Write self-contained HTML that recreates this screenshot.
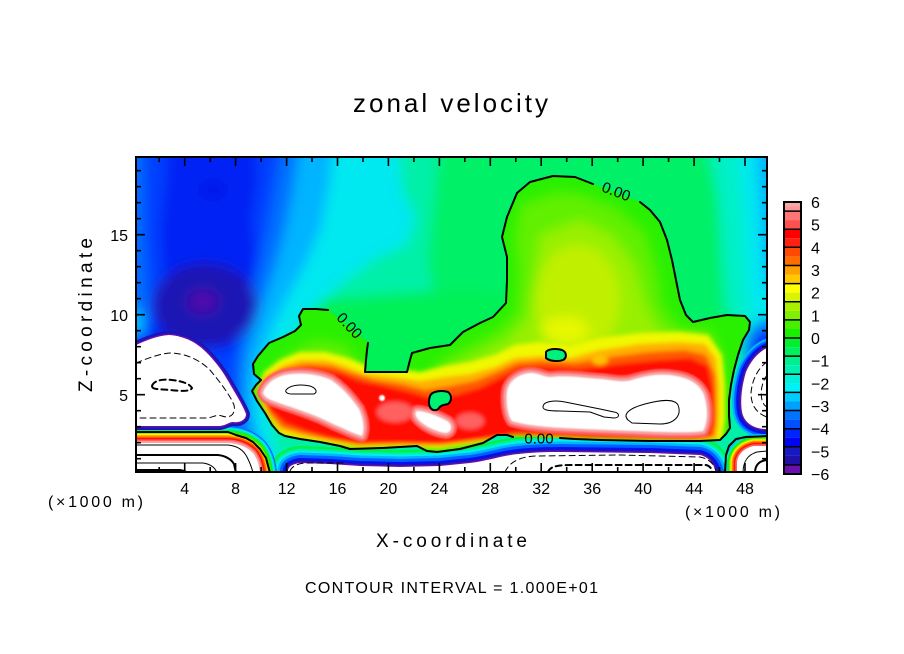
<!DOCTYPE html>
<html><head><meta charset="utf-8">
<style>
html,body{margin:0;padding:0;background:#fff;}
svg{display:block;}
text{font-family:"Liberation Sans",sans-serif;fill:#000;}
</style></head><body>
<svg width="904" height="654" viewBox="0 0 904 654" xmlns="http://www.w3.org/2000/svg">
<defs>
<clipPath id="cp"><rect x="136" y="157" width="631" height="315"/></clipPath>
<path id="pMain" d="M368,343 L367,350 L366,360 L365,372 L385,372 L407,372 L410,360 L412,353 L430,348 L450,345 L463,332 L480,323 L493,317 L506,303 L507,280 L507,257 L502,237 L507,217 L517,193 L530,182 L553,176 L575,177 L593,184 L616,193 L640,202 L650,210 L660,222 L667,240 L672,260 L676,280 L680,300 L686,315 L693,322 L710,318 L727,315 L745,316 L750,322 L749,330 L743,340 L738,355 L734,370 L731,385 L729,400 L729,415 L730,428 L726,434 L720,440 L700,441 L650,441 L600,440 L575,439 L560,438 L538,437 L513,437 L507,435 L497,435 L483,443 L460,449 L437,452 L427,451 L417,446 L383,448 L350,449 L340,446 L320,442 L300,439 L285,436 L279,433 L272,425 L265,413 L257,401 L252,391 L256,385 L261,380 L254,374 L253,364 L258,356 L269,343 L283,337 L295,331 L301,325 L299,316 L303,309 L316,309 L328,310 L348,326 Z"/>
<clipPath id="mc"><use href="#pMain"/></clipPath>
<filter id="b6" x="-10%" y="-10%" width="120%" height="120%"><feGaussianBlur stdDeviation="6"/></filter>
<filter id="b2" x="-10%" y="-10%" width="120%" height="120%"><feGaussianBlur stdDeviation="2"/></filter>
<filter id="b1" x="-10%" y="-10%" width="120%" height="120%"><feGaussianBlur stdDeviation="0.8"/></filter>
<path id="pBM" d="M288,500 L288,470 C289,466 293,464 300,463 L330,464 L360,466 L400,467 L440,466 L470,463 C485,461 495,458 505,456 C520,453 540,452 560,452 L650,453 L700,455 C708,457 713,462 716,472 L717,500 Z"/>
<path id="pA" d="M263,393 C265,385 273,378 285,375 C300,372 318,374 331,380 C343,388 352,399 359,409 C363,418 365,428 362,436 C352,433 343,428 333,424 C318,416 300,410 285,405 C274,401 265,399 263,393 Z"/>
<path id="pB" d="M417,411 C425,411 438,416 447,421 C453,425 452,432 446,433 C438,432 428,428 421,422 C416,418 414,413 417,411 Z"/>
<path id="pD" d="M507,392 C508,382 518,374 530,373 C540,373 545,378 552,377 C565,375 585,378 600,379 C612,380 622,383 632,380 C645,376 660,373 675,376 C690,378 700,385 704,395 C708,408 708,422 703,431 C690,433 660,432 640,431 C610,430 585,429 565,428 C545,427 525,425 512,421 C507,415 506,400 507,392 Z"/>
<path id="pBL" d="M100,443 L226,443 C238,443 247,447 253,453 C257,458 259,464 260,473 L260,500 L100,500 Z"/>
<path id="pLW" d="M100,345 L136,345 C145,341 156,336 169,335 C185,336 197,343 206,352 C216,362 224,373 231,386 C237,396 243,406 246,414 C246,420 240,423 233,422 C229,422 227,425 220,426 L100,426 Z"/>
<path id="pRW" d="M800,348 L767,348 C758,352 750,362 746,372 C742,385 740,400 742,412 C744,422 752,428 764,429 L800,429 Z"/>
<path id="pBR" d="M737,500 L737,462 C738,454 744,448 754,446 L800,446 L800,500 Z"/>
</defs>

<!-- ================= FIELD ================= -->
<g clip-path="url(#cp)">
 <g filter="url(#b6)">
  <rect x="100" y="140" width="720" height="360" fill="#00f0a8"/>
  <polygon fill="#00f068" points="440,140 705,140 718,200 722,300 735,345 480,352 440,335 428,260"/>
  <polygon fill="#00f058" points="305,300 420,292 470,290 510,295 515,385 300,385"/>
  <polygon fill="#00f0c8" points="712,140 820,140 820,350 740,345 730,300 722,230"/>
  <polygon fill="#00e8f0" points="738,140 820,140 820,345 752,338 748,290 744,220"/>
  <polygon fill="#00b4ff" points="756,140 820,140 820,300 766,290 761,220"/>
  <ellipse cx="768" cy="350" rx="24" ry="30" fill="#0070ff"/>
  <ellipse cx="768" cy="352" rx="16" ry="20" fill="#0010f8"/>
  <polygon fill="#00e8f0" points="100,140 398,140 402,190 416,218 406,245 376,258 346,280 318,305 296,330 281,355 272,380 266,410 274,440 288,500 100,500"/>
  <polygon fill="#00b4ff" points="100,140 335,140 328,190 320,230 305,265 287,298 272,328 262,355 255,385 256,420 268,460 278,500 100,500"/>
  <polygon fill="#0070ff" points="100,140 300,140 293,190 285,230 275,268 264,300 254,330 246,360 244,400 252,440 264,500 100,500"/>
  <polygon fill="#0040ff" points="143,140 282,140 274,190 266,235 258,270 250,300 242,330 236,365 236,410 100,410 100,345 145,335 148,300 144,240"/>
  <polygon fill="#0022f4" points="168,140 256,140 258,180 252,220 256,255 252,290 244,325 232,350 150,350 156,320 164,280 160,230 166,180"/>
  <ellipse cx="213" cy="190" rx="13" ry="8" fill="#0012e8"/>
  <ellipse cx="205" cy="305" rx="52" ry="42" fill="#1c14b4"/>
  <ellipse cx="203" cy="302" rx="17" ry="13" fill="#4010a8"/>
  <ellipse cx="203" cy="301" rx="6" ry="5" fill="#6010b0"/>
  <ellipse cx="136" cy="322" rx="8" ry="14" fill="#00c0ff"/>
 </g>

 <!-- bottom-middle negative region -->
 <g fill="none" stroke-linejoin="round">
  <use href="#pBM" stroke="#00f048" stroke-width="34"/>
  <use href="#pBM" stroke="#00f0a0" stroke-width="29"/>
  <use href="#pBM" stroke="#00f0e8" stroke-width="25"/>
  <use href="#pBM" stroke="#00b4ff" stroke-width="21"/>
  <use href="#pBM" stroke="#0060ff" stroke-width="16"/>
  <use href="#pBM" stroke="#0010f8" stroke-width="10"/>
  <use href="#pBM" stroke="#1c14b4" stroke-width="6"/>
  <use href="#pBM" stroke="#6010b0" stroke-width="3"/>
 </g>
 <use href="#pBM" fill="#fff"/>

 <!-- main positive region -->
 <g clip-path="url(#mc)">
  <rect x="240" y="170" width="520" height="290" fill="#28f000"/>
  <g filter="url(#b6)">
   <polygon fill="#60f000" points="520,205 555,192 580,194 615,207 645,232 657,270 662,305 680,330 712,330 722,360 722,440 280,440 268,410 270,385 280,360 300,348 315,340 345,345 372,382 420,384 440,362 470,345 498,330 516,312 518,270 514,240"/>
   <polygon fill="#98f000" points="540,235 580,220 612,235 635,265 645,305 660,332 700,336 716,355 716,440 290,440 282,395 300,372 330,364 370,388 420,392 445,370 480,355 508,340 528,318 534,280"/>
   <ellipse cx="578" cy="300" rx="42" ry="55" fill="#c0f000"/>
   <ellipse cx="565" cy="330" rx="24" ry="13" fill="#e8f800"/>
  </g>
  <g filter="url(#b2)">
   <polygon fill="#f0f800" points="256,392 264,372 280,360 300,352 325,352 348,358 368,366 395,368 420,372 445,366 470,362 495,355 515,345 540,342 570,346 600,338 640,333 680,332 708,335 722,355 725,385 725,420 722,440 700,441 560,438 507,435 480,443 440,449 400,447 360,449 330,444 300,439 280,434 266,414"/>
   <polygon fill="#ffb000" points="258,392 266,376 282,366 300,360 325,360 345,366 365,374 395,377 420,381 445,377 470,374 495,367 515,358 540,356 570,358 600,350 640,344 680,342 705,344 716,358 719,385 719,415 717,438 700,441 600,439 560,437 507,434 480,440 440,446 400,445 360,446 330,441 300,436 280,430 268,414"/>
   <polygon fill="#ff5800" points="260,392 269,377 286,368 307,364 332,366 352,373 375,380 402,384 425,390 450,386 475,381 497,372 517,363 542,361 575,363 610,357 650,352 685,350 706,355 715,375 716,400 716,425 713,437 690,439 600,438 560,437 510,435 485,440 445,445 400,444 358,445 330,440 302,433 282,427 269,412"/>
   <polygon fill="#ff1000" points="262,392 272,378 290,370 315,368 340,373 360,381 385,386 410,392 430,398 455,395 480,388 500,378 520,368 545,367 580,369 620,364 660,360 690,358 708,366 713,390 713,420 710,436 690,438 640,438 600,437 560,436 520,433 500,436 470,441 430,444 390,443 355,443 330,438 305,431 285,423 270,410"/>
   <ellipse cx="395" cy="412" rx="18" ry="10" fill="#ff6060"/>
   <ellipse cx="470" cy="421" rx="14" ry="8" fill="#ff6060"/>
   <ellipse cx="600" cy="360" rx="8" ry="5" fill="#ffc000"/>
  </g>
  <g filter="url(#b1)">
   <g fill="none" stroke-linejoin="round">
    <use href="#pA" stroke="#ff6060" stroke-width="12"/>
    <use href="#pB" stroke="#ff6060" stroke-width="12"/>
    <use href="#pD" stroke="#ff6060" stroke-width="12"/>
    <use href="#pA" stroke="#f8a0a0" stroke-width="6"/>
    <use href="#pB" stroke="#f8a0a0" stroke-width="6"/>
    <use href="#pD" stroke="#f8a0a0" stroke-width="6"/>
   </g>
   <use href="#pA" fill="#fff"/>
   <use href="#pB" fill="#fff"/>
   <use href="#pD" fill="#fff"/>
   <circle cx="382" cy="398" r="3" fill="#fff"/>
  </g>
 </g>

 <!-- bottom-left positive region -->
 <g fill="none" stroke-linejoin="round">
  <use href="#pBL" stroke="#0060ff" stroke-width="34"/>
  <use href="#pBL" stroke="#00b4ff" stroke-width="32"/>
  <use href="#pBL" stroke="#00f0e8" stroke-width="30"/>
  <use href="#pBL" stroke="#00f0a0" stroke-width="28"/>
  <use href="#pBL" stroke="#00f048" stroke-width="26"/>
  <use href="#pBL" stroke="#28f000" stroke-width="24"/>
  <use href="#pBL" stroke="#98f000" stroke-width="20"/>
  <use href="#pBL" stroke="#f0f800" stroke-width="18"/>
  <use href="#pBL" stroke="#ffb000" stroke-width="16"/>
  <use href="#pBL" stroke="#ff5800" stroke-width="13"/>
  <use href="#pBL" stroke="#ff1000" stroke-width="10"/>
  <use href="#pBL" stroke="#ff6060" stroke-width="7"/>
  <use href="#pBL" stroke="#f8a0a0" stroke-width="4"/>
 </g>
 <use href="#pBL" fill="#fff"/>

 <!-- left negative blob -->
 <g fill="none" stroke-linejoin="round">
  <use href="#pLW" stroke="#1c14b4" stroke-width="8"/>
  <use href="#pLW" stroke="#6010b0" stroke-width="3"/>
 </g>
 <use href="#pLW" fill="#fff"/>

 <!-- right negative blob -->
 <g fill="none" stroke-linejoin="round">
  <use href="#pRW" stroke="#00b4ff" stroke-width="18"/>
  <use href="#pRW" stroke="#0060ff" stroke-width="14"/>
  <use href="#pRW" stroke="#0010f8" stroke-width="10"/>
  <use href="#pRW" stroke="#1c14b4" stroke-width="6"/>
  <use href="#pRW" stroke="#6010b0" stroke-width="3"/>
 </g>
 <use href="#pRW" fill="#fff"/>

 <!-- bottom-right positive region -->
 <g fill="none" stroke-linejoin="round">
  <use href="#pBR" stroke="#00b4ff" stroke-width="24"/>
  <use href="#pBR" stroke="#00f0e8" stroke-width="22"/>
  <use href="#pBR" stroke="#00f048" stroke-width="20"/>
  <use href="#pBR" stroke="#28f000" stroke-width="17"/>
  <use href="#pBR" stroke="#98f000" stroke-width="15"/>
  <use href="#pBR" stroke="#f0f800" stroke-width="13"/>
  <use href="#pBR" stroke="#ffb000" stroke-width="11"/>
  <use href="#pBR" stroke="#ff5800" stroke-width="9"/>
  <use href="#pBR" stroke="#ff1000" stroke-width="6"/>
  <use href="#pBR" stroke="#ff6060" stroke-width="3.5"/>
 </g>
 <use href="#pBR" fill="#fff"/>

 <!-- islands -->
 <path d="M546,352 C548,349 556,348 562,350 C567,352 567,358 563,360 C558,362 549,361 546,358 Z" fill="#00f080" stroke="#000" stroke-width="2"/>
 <path d="M430,396 C432,391 442,390 448,392 C452,395 452,401 448,404 C444,405 441,405 439,408 C437,411 432,411 430,407 C428,403 429,399 430,396 Z" fill="#00f070" stroke="#000" stroke-width="2"/>

 <!-- contour lines -->
 <g fill="none" stroke="#000" stroke-linejoin="round" stroke-linecap="round">
  <path stroke-width="2" d="M368,343 L367,350 L366,360 L365,372 L385,372 L407,372 L410,360 L412,353 L430,348 L450,345 L463,332 L480,323 L493,317 L506,303 L507,280 L507,257 L502,237 L507,217 L517,193 L530,182 L553,176 L575,177 L593,184"/>
  <path stroke-width="2" d="M640,202 L650,210 L660,222 L667,240 L672,260 L676,280 L680,300 L686,315 L693,322 L710,318 L727,315 L745,316 L750,322 L749,330 L743,340 L738,355 L734,370 L731,385 L729,400 L729,415 L730,428 L726,434 L720,440 L700,441 L650,441 L600,440 L575,439 L560,438"/>
  <path stroke-width="2" d="M513,437 L507,435 L497,435 L483,443 L460,449 L437,452 L427,451 L417,446 L383,448 L350,449 L340,446 L320,442 L300,439 L285,436 L279,433 L272,425 L265,413 L257,401 L252,391 L256,385 L261,380 L254,374 L253,364 L258,356 L269,343 L283,337 L295,331 L301,325 L299,316 L303,309 L316,309 L328,310"/>
  <path stroke-width="2" d="M136,432 L228,432 L236,435 L246,438 L253,442 L260,449 L266,458 L270,473"/>
  <path stroke-width="2" d="M725,473 L726,455 L729,446 L736,439 L746,437 L767,436"/>
  <path stroke-width="1" d="M136,445 L228,445 C238,446 244,451 247,457 C250,463 252,468 253,473"/>
  <path stroke-width="2" d="M136,455 L218,455 C226,456 231,459 234,464 L236,473"/>
  <path stroke-width="1" d="M136,463 L203,463 C210,464 215,467 217,473"/>
  <path stroke-width="2" d="M136,470 L180,470 C185,471 187,472 188,473"/>
  <path stroke-width="1" d="M743,473 C743,462 747,455 757,452 L767,451"/>
  <path stroke-width="2" d="M755,473 C755,466 758,461 767,460"/>
  <path stroke-width="1" d="M286,390 C290,385 300,384 310,386 C316,388 318,392 314,394 L292,394 C287,394 285,392 286,390 Z"/>
  <path stroke-width="1" d="M543,407 C543,401 555,400 565,402 L600,409 L614,412 C620,413 620,418 614,418 L604,417 L590,412 L560,411 C548,411 543,410 543,407 Z"/>
  <path stroke-width="1" d="M628,420 C622,414 630,408 645,404 C660,400 674,398 678,405 C682,415 675,424 660,424 L632,423 Z"/>
  <path stroke-width="1" stroke-dasharray="6 4" d="M136,363 C146,359 158,354 170,353 C185,353 200,360 210,370 C220,382 230,395 234,405 C236,414 230,419 222,416 C216,414 212,418 206,418 L136,418"/>
  <path stroke-width="2" stroke-dasharray="6 4" d="M152,386 C154,380 163,379 172,380 C182,381 190,384 192,388 C190,392 180,391 170,390 C160,389 152,390 152,386 Z"/>
  <path stroke-width="1" stroke-dasharray="6 4" d="M767,362 C758,368 752,380 751,393 C751,405 756,413 767,417"/>
  <path stroke-width="1" stroke-dasharray="6 4" d="M767,375 C762,382 760,392 762,400 C763,404 765,406 767,407"/>
  <path stroke-width="1" stroke-dasharray="6 4" d="M290,471 C292,466 298,463 308,463 L345,463"/>
  <path stroke-width="1" stroke-dasharray="6 4" d="M505,472 C509,463 518,457 535,456 L620,455 L700,457 C710,459 715,465 716,472"/>
  <path stroke-width="2" stroke-dasharray="6 4" d="M548,472 C550,467 556,465 570,465 L706,465 C710,466 712,469 712,472"/>
 </g>
</g>

<!-- contour labels -->
<text x="0" y="0" font-size="15" text-anchor="middle" dominant-baseline="central" transform="translate(616,192) rotate(21)">0.00</text>
<text x="0" y="0" font-size="15" text-anchor="middle" dominant-baseline="central" transform="translate(349,326) rotate(47)">0.00</text>
<text x="539" y="439" font-size="15" text-anchor="middle" dominant-baseline="central">0.00</text>

<!-- frame & ticks -->
<rect x="136" y="157" width="631" height="315" fill="none" stroke="#000" stroke-width="2"/>
<g stroke="#000" stroke-width="1.6" fill="none">
 <path d="M184.7,157v9M235.6,157v9M286.6,157v9M337.5,157v9M388.4,157v9M439.4,157v9M490.3,157v9M541.2,157v9M592.2,157v9M643.1,157v9M694.1,157v9M745,157v9"/>
 <path d="M159.2,157v5M210.2,157v5M261.1,157v5M312,157v5M363,157v5M413.9,157v5M464.8,157v5M515.8,157v5M566.7,157v5M617.7,157v5M668.6,157v5M719.5,157v5"/>
 <path d="M184.7,472v-9M235.6,472v-9M286.6,472v-9M337.5,472v-9M388.4,472v-9M439.4,472v-9M490.3,472v-9M541.2,472v-9M592.2,472v-9M643.1,472v-9M694.1,472v-9M745,472v-9"/>
 <path d="M159.2,472v-5M210.2,472v-5M261.1,472v-5M312,472v-5M363,472v-5M413.9,472v-5M464.8,472v-5M515.8,472v-5M566.7,472v-5M617.7,472v-5M668.6,472v-5M719.5,472v-5"/>
 <path d="M136,394.7h9M136,314.7h9M136,234.7h9M767,394.7h-9M767,314.7h-9M767,234.7h-9"/>
 <path d="M136,458.7h5M136,442.7h5M136,426.7h5M136,410.7h5M136,378.7h5M136,362.7h5M136,346.7h5M136,330.7h5M136,298.7h5M136,282.7h5M136,266.7h5M136,250.7h5M136,218.7h5M136,202.7h5M136,186.7h5M136,170.7h5"/>
 <path d="M767,458.7h-5M767,442.7h-5M767,426.7h-5M767,410.7h-5M767,378.7h-5M767,362.7h-5M767,346.7h-5M767,330.7h-5M767,298.7h-5M767,282.7h-5M767,266.7h-5M767,250.7h-5M767,218.7h-5M767,202.7h-5M767,186.7h-5M767,170.7h-5"/>
</g>

<!-- axis labels -->
<g font-size="16" text-anchor="middle">
 <text x="184.7" y="494">4</text><text x="235.6" y="494">8</text><text x="286.6" y="494">12</text>
 <text x="337.5" y="494">16</text><text x="388.4" y="494">20</text><text x="439.4" y="494">24</text>
 <text x="490.3" y="494">28</text><text x="541.2" y="494">32</text><text x="592.2" y="494">36</text>
 <text x="643.1" y="494">40</text><text x="694.1" y="494">44</text><text x="745" y="494">48</text>
</g>
<g font-size="16" text-anchor="end">
 <text x="128" y="241">15</text><text x="128" y="321">10</text><text x="128" y="401">5</text>
</g>
<text x="48" y="507" font-size="16" textLength="95" lengthAdjust="spacing">(×1000 m)</text>
<text x="685" y="517" font-size="16" textLength="95" lengthAdjust="spacing">(×1000 m)</text>
<text x="353" y="112" font-size="26" textLength="195" lengthAdjust="spacing">zonal velocity</text>
<text x="376" y="547" font-size="19" textLength="151" lengthAdjust="spacing">X-coordinate</text>
<text x="0" y="0" font-size="19" textLength="154" lengthAdjust="spacing" transform="translate(92,392) rotate(-90)">Z-coordinate</text>
<text x="305" y="593" font-size="16" textLength="293" lengthAdjust="spacing">CONTOUR INTERVAL = 1.000E+01</text>

<!-- colorbar -->
<g>
 <rect x="784" y="202" width="17" height="4.5" fill="#f8a8a8"/><rect x="784" y="206.5" width="17" height="4.6" fill="#f89898"/>
 <rect x="784" y="211.1" width="17" height="9.1" fill="#ff7474"/><rect x="784" y="220.1" width="17" height="9.1" fill="#ff5050"/>
 <rect x="784" y="229.2" width="17" height="9.1" fill="#ff0000"/><rect x="784" y="238.3" width="17" height="9.1" fill="#ff2010"/>
 <rect x="784" y="247.3" width="17" height="9.1" fill="#ff4800"/><rect x="784" y="256.4" width="17" height="9.1" fill="#ff6c00"/>
 <rect x="784" y="265.5" width="17" height="9.1" fill="#ffa000"/><rect x="784" y="274.5" width="17" height="9.1" fill="#ffc800"/>
 <rect x="784" y="283.6" width="17" height="9.1" fill="#ffff00"/><rect x="784" y="292.7" width="17" height="9.1" fill="#d8f400"/>
 <rect x="784" y="301.7" width="17" height="9.1" fill="#a8f000"/><rect x="784" y="310.8" width="17" height="9.1" fill="#80f000"/>
 <rect x="784" y="319.9" width="17" height="9.1" fill="#48f000"/><rect x="784" y="328.9" width="17" height="9.1" fill="#18f000"/>
 <rect x="784" y="338" width="17" height="9.1" fill="#00f030"/><rect x="784" y="347.1" width="17" height="9.1" fill="#00f060"/>
 <rect x="784" y="356.1" width="17" height="9.1" fill="#00f090"/><rect x="784" y="365.2" width="17" height="9.1" fill="#00f0b4"/>
 <rect x="784" y="374.3" width="17" height="9.1" fill="#00f0d8"/><rect x="784" y="383.3" width="17" height="9.1" fill="#00f0f8"/>
 <rect x="784" y="392.4" width="17" height="9.1" fill="#00ccff"/><rect x="784" y="401.5" width="17" height="9.1" fill="#00a0ff"/>
 <rect x="784" y="410.5" width="17" height="9.1" fill="#0074ff"/><rect x="784" y="419.6" width="17" height="9.1" fill="#0050ff"/>
 <rect x="784" y="428.7" width="17" height="9.1" fill="#0024ff"/><rect x="784" y="437.7" width="17" height="9.1" fill="#0004f0"/>
 <rect x="784" y="446.8" width="17" height="9.1" fill="#1818c0"/><rect x="784" y="455.9" width="17" height="9.1" fill="#2010a8"/>
 <rect x="784" y="464.9" width="17" height="9.1" fill="#6a10b0"/>
 <path stroke="#000" stroke-width="1.5" d="M784,211.1h17M784,229.2h17M784,247.3h17M784,265.5h17M784,283.6h17M784,301.7h17M784,319.9h17M784,338h17M784,356.1h17M784,374.3h17M784,392.4h17M784,410.5h17M784,428.7h17M784,446.8h17M784,464.9h17"/>
 <rect x="784" y="202" width="17" height="272" fill="none" stroke="#000" stroke-width="2"/>
</g>
<g font-size="16">
 <text x="811" y="208">6</text>
 <text x="811" y="230.7">5</text>
 <text x="811" y="253.3">4</text>
 <text x="811" y="276">3</text>
 <text x="811" y="298.7">2</text>
 <text x="811" y="321.3">1</text>
 <text x="811" y="344">0</text>
 <text x="811" y="366.7">−1</text>
 <text x="811" y="389.3">−2</text>
 <text x="811" y="412">−3</text>
 <text x="811" y="434.7">−4</text>
 <text x="811" y="457.3">−5</text>
 <text x="811" y="480">−6</text>
</g>
</svg>
</body></html>
